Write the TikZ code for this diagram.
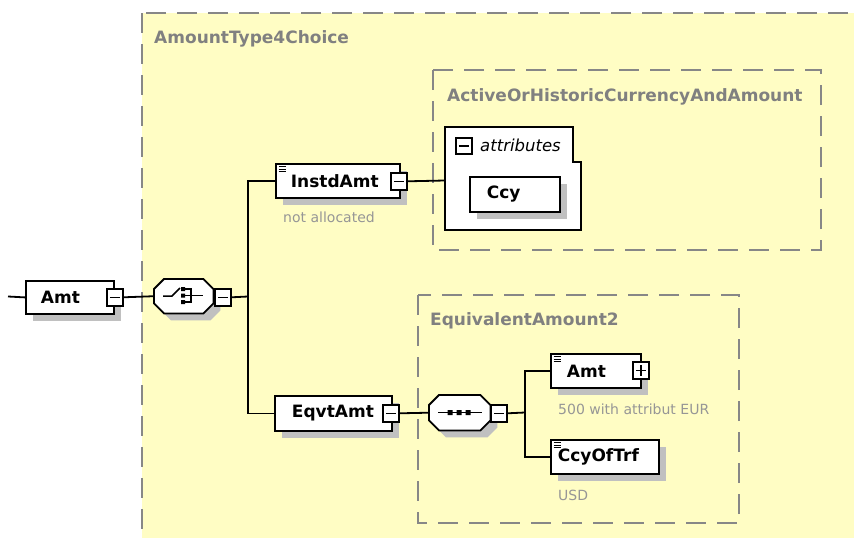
\documentclass[tikz,border=0pt]{standalone}
\usepackage{fontspec}
\setmainfont{DejaVu Sans}
\definecolor{bgyellow}{RGB}{255,253,196}
\definecolor{dashgray}{RGB}{135,135,135}
\definecolor{lblgray}{RGB}{128,128,128}
\definecolor{notegray}{RGB}{150,150,150}
\definecolor{shadowgray}{RGB}{192,192,192}
\newcommand\compoctpath[1]{([xshift=10pt]#1.north west) -- ([xshift=-10pt]#1.north east) -- ([yshift=-10pt]#1.north east) -- ([yshift=10pt]#1.south east) -- ([xshift=-10pt]#1.south east) -- ([xshift=10pt]#1.south west) -- ([yshift=10pt]#1.south west) -- ([yshift=-10pt]#1.north west) -- cycle}
\newcommand\compoct[1]{%
  \begin{scope}[transform canvas={xshift=7pt,yshift=-7pt}]
    \fill[shadowgray] \compoctpath{#1};
  \end{scope}
  \draw[line width=1.8pt, fill=white] \compoctpath{#1};}
\newcommand\docicon[1]{%
  \draw[line width=0.9pt] ([xshift=3.5pt,yshift=-3.8pt]#1.north west) -- ++(7.5pt,0pt)
    ([xshift=3.5pt,yshift=-6.3pt]#1.north west) -- ++(7.5pt,0pt)
    ([xshift=3.5pt,yshift=-8.8pt]#1.north west) -- ++(7.5pt,0pt);}
\begin{document}
\begin{tikzpicture}[x=1pt,y=-1pt,
  grp/.style={draw=dashgray, line width=2pt, dash pattern=on 20pt off 11pt},
  grplbl/.style={anchor=base west, inner sep=0pt, text=lblgray, font=\fontsize{17}{20}\selectfont\bfseries},
  note/.style={anchor=base west, inner sep=0pt, text=notegray, font=\fontsize{14}{16}\selectfont},
  elem/.style={draw=black, fill=white, line width=1.8pt, anchor=north west, inner ysep=0pt, align=left,
    font=\fontsize{17}{20}\selectfont\bfseries,
    preaction={fill=shadowgray, transform canvas={xshift=7pt,yshift=-7pt}}},
  comp/.style={anchor=north west, inner sep=0pt},
  pm/.style={draw=black, fill=white, line width=1.6pt, anchor=north west, inner sep=0pt, minimum width=16pt, minimum height=17pt},
  minus/.style={path picture={\draw[line width=1.5pt] ([xshift=3pt]path picture bounding box.west) -- ([xshift=-3pt]path picture bounding box.east);}},
  plus/.style={path picture={\draw[line width=1.5pt] ([xshift=3pt]path picture bounding box.west) -- ([xshift=-3pt]path picture bounding box.east)
      ([yshift=-3pt]path picture bounding box.north) -- ([yshift=3pt]path picture bounding box.south);}},
  conn/.style={draw=black, line width=1.8pt}]
\useasboundingbox (0,0) rectangle (854,538);
\clip (0,0) rectangle (854,538);
\fill[white] (0,0) rectangle (854,538);
% group boxes
\draw[grp, fill=bgyellow] (142,13) rectangle (900,600);
\node[grplbl] (lblA) at (154,43) {AmountType4Choice};
\draw[grp] (433,70) rectangle (821,250);
\node[grplbl] (lblB) at (447,101) {ActiveOrHistoricCurrencyAndAmount};
\draw[grp] (418,295) rectangle (739,523);
\node[grplbl] (lblC) at (430,325) {EquivalentAmount2};
% root element
\coordinate (start) at (8,296.5);
\node[elem, minimum height=33pt, inner xsep=15pt, text width=58pt] (amt) at (25,280) {Amt};
\node[pm, minus] (amtm) at (106,288) {};
\draw[conn] (start) -- (amt.west);
% choice compositor
\node[comp, minimum width=59pt, minimum height=34pt] (choice) at (154,279) {};
\compoct{choice}
\draw[line width=1.5pt] (163,296) -- (172,296) -- (180,288);
\fill (181,287) rectangle (185,291) (181,293.5) rectangle (185,297.5) (181,300) rectangle (185,304);
\draw[line width=1.5pt] (185,289) -- (191,289) -- (191,302) -- (185,302) (185,295.5) -- (203,295.5);
\node[pm, minus] (chm) at (214,288) {};
\draw[conn] (amtm.east) -- (choice.west);
\coordinate (cb) at (248,296.5);
\draw[conn] (chm.east) -- (cb);
% InstdAmt
\node[elem, minimum height=34pt, inner xsep=15pt, text width=94pt] (instd) at (275,163) {InstdAmt};
\docicon{instd}
\node[pm, minus] (instdm) at (390,172) {};
\node[note] (n1) at (283,222) {not allocated};
% EqvtAmt
\node[elem, minimum height=35pt, inner xsep=17pt, text width=83pt] (eqvt) at (274,395) {EqvtAmt};
\node[pm, minus] (eqvtm) at (382,404) {};
\draw[conn] (instd.west) -| (cb) |- (eqvt.west);
% attributes
\coordinate (attrw) at (445,180.5);
\draw[conn] (instdm.east) -- (attrw);
\draw[line width=1.8pt, fill=white] (445,127) -- (573,127) -- (573,162) -- (581,162) -- (581,230) -- (445,230) -- cycle;
\node[pm, minus, minimum width=16pt, minimum height=16pt] (attrm) at (455,137) {};
\node[anchor=base west, inner sep=0pt, font=\fontsize{16.5}{18}\selectfont\itshape] (attrl) at (480,151) {attributes};
\node[elem, minimum height=35pt, inner xsep=17pt, text width=56pt] (ccy) at (469,176) {Ccy};
% sequence compositor
\node[comp, minimum width=61pt, minimum height=35pt] (seq) at (429,395) {};
\compoct{seq}
\draw[line width=1.5pt] (438,412.5) -- (482,412.5);
\fill (447.5,410) rectangle (452.5,415) (456.5,410) rectangle (461.5,415) (465.5,410) rectangle (470.5,415);
\node[pm, minus] (seqm) at (490,404) {};
\draw[conn] (eqvtm.east) -- (seq.west);
\coordinate (sb) at (525,412.5);
\draw[conn] (seqm.east) -- (sb);
% children of sequence
\node[elem, minimum height=34pt, inner xsep=16pt, text width=58pt] (amtb) at (550,353) {Amt};
\docicon{amtb}
\node[pm, plus] (amtbp) at (632,361) {};
\node[note] (n2) at (558,414) {500 with attribut EUR};
\node[elem, minimum height=34pt, inner xsep=7pt, text width=94pt] (ccyof) at (550,439) {CcyOfTrf};
\docicon{ccyof}
\node[note] (n3) at (558,500) {USD};
\draw[conn] (amtb.west) -| (sb) |- (ccyof.west);
\end{tikzpicture}
\end{document}
